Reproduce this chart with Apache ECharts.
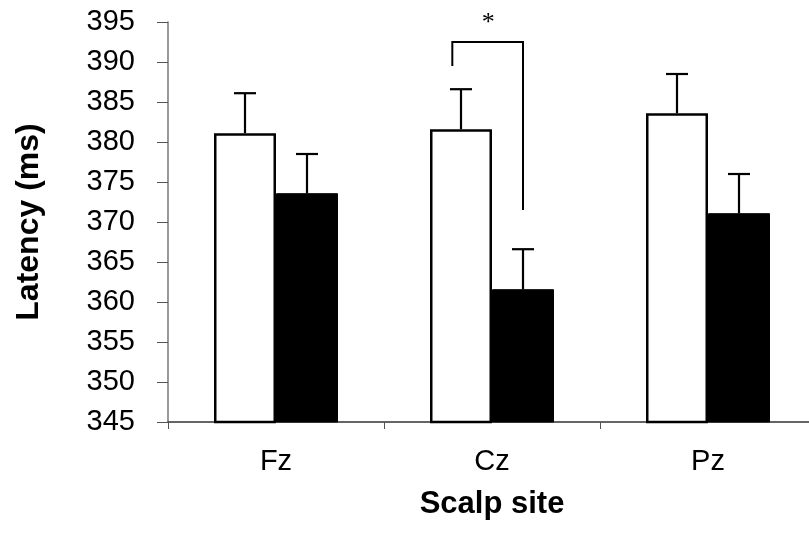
<!DOCTYPE html>
<html>
<head>
<meta charset="utf-8">
<script src="https://cdn.jsdelivr.net/npm/echarts@6/dist/echarts.min.js"></script>
<style>html,body{margin:0;padding:0;background:#fff;overflow:hidden}#c{width:826px;height:533px}</style>
</head>
<body>
<div id="c"></div>
<script>
const categories = ['Fz', 'Cz', 'Pz'];
const whiteValues = [381.1, 381.6, 383.6];
const whiteErrors = [5.0, 5.0, 4.9];
const blackValues = [373.6, 361.6, 371.1];
const blackErrors = [4.9, 5.0, 4.9];
const yTicks = [345, 350, 355, 360, 365, 370, 375, 380, 385, 390, 395];
// significance bracket: [categoryIndex, topValue, leftLegBottom, rightLegBottom]
const bracket = [1, 392.5, 389.5, 371.5];
const starValue = 394.8;

const FONT = "'Liberation Sans', Arial, sans-serif";
const BAR_W = 62;

function errRender(offset) {
  return function (params, api) {
    const c = api.coord([api.value(0), api.value(1)]);
    const t = api.coord([api.value(0), api.value(1) + api.value(2)]);
    const x = c[0] + offset;
    const style = { stroke: '#000', lineWidth: 2.2 };
    return {
      type: 'group',
      children: [
        { type: 'line', shape: { x1: x, y1: c[1], x2: x, y2: t[1] }, style },
        { type: 'line', shape: { x1: x - 11, y1: t[1], x2: x + 11, y2: t[1] }, style }
      ]
    };
  };
}

const chart = echarts.init(document.getElementById('c'), null, { renderer: 'canvas' });
chart.setOption({
  animation: false,
  backgroundColor: '#fff',
  grid: { left: 168, top: 22, bottom: 111, right: 10, containLabel: false },
  xAxis: {
    type: 'category',
    data: categories,
    name: 'Scalp site',
    nameLocation: 'middle',
    nameGap: 67,
    nameTextStyle: { fontFamily: FONT, fontWeight: 'bold', fontSize: 31, color: '#000' },
    axisLine: { lineStyle: { color: '#333', width: 1.5 } },
    axisTick: { show: true, length: 7, alignWithLabel: false, lineStyle: { color: '#555' } },
    axisLabel: { fontFamily: FONT, fontSize: 29, color: '#000', margin: 25 },
    splitLine: { show: false }
  },
  yAxis: {
    type: 'value',
    min: yTicks[0],
    max: yTicks[yTicks.length - 1],
    interval: yTicks[1] - yTicks[0],
    name: 'Latency (ms)',
    nameLocation: 'middle',
    nameRotate: 90,
    nameGap: 123,
    nameTextStyle: { fontFamily: FONT, fontWeight: 'bold', fontSize: 32, color: '#000' },
    axisLine: { show: true, lineStyle: { color: '#777', width: 1.5 } },
    axisTick: { show: true, length: 11, lineStyle: { color: '#555' } },
    axisLabel: { fontFamily: FONT, fontSize: 29, color: '#000', margin: 33 },
    splitLine: { show: false }
  },
  series: [
    {
      type: 'bar',
      data: whiteValues,
      barWidth: BAR_W,
      barGap: '0%',
      itemStyle: { color: '#fff', borderColor: '#000', borderWidth: 2.5 },
      z: 2
    },
    {
      type: 'bar',
      data: blackValues,
      barWidth: BAR_W,
      barGap: '0%',
      itemStyle: { color: '#000', borderColor: '#000', borderWidth: 1 },
      z: 2
    },
    {
      type: 'custom',
      renderItem: errRender(-BAR_W / 2),
      data: whiteValues.map((v, i) => [i, v, whiteErrors[i]]),
      z: 3,
      clip: false
    },
    {
      type: 'custom',
      renderItem: errRender(BAR_W / 2),
      data: blackValues.map((v, i) => [i, v, blackErrors[i]]),
      z: 3,
      clip: false
    },
    {
      type: 'custom',
      clip: false,
      z: 4,
      data: [bracket],
      renderItem: function (params, api) {
        const top = api.coord([api.value(0), api.value(1)]);
        const lb = api.coord([api.value(0), api.value(2)]);
        const rb = api.coord([api.value(0), api.value(3)]);
        const xl = top[0] - BAR_W * 0.64;
        const xr = top[0] + BAR_W / 2;
        const starPos = api.coord([api.value(0), starValue]);
        return {
          type: 'group',
          children: [
            { type: 'polyline', shape: { points: [[xl, lb[1]], [xl, top[1]], [xr, top[1]], [xr, rb[1]]] }, style: { stroke: '#000', lineWidth: 2, fill: null } },
            { type: 'text', style: { text: '*', x: (xl + xr) / 2 + 0.5, y: starPos[1], align: 'center', verticalAlign: 'middle', font: "26px 'Liberation Serif', 'Times New Roman', serif", fill: '#000' } }
          ]
        };
      }
    }
  ]
});
</script>
</body>
</html>
